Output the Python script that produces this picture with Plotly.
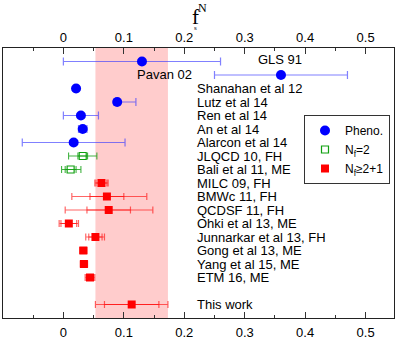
import plotly.graph_objects as go

# ---------------- data ----------------
pheno_labels = ["Pavan 02", "GLS 91", "Shanahan et al 12", "Lutz et al 14",
                "Ren et al 14", "An et al 14", "Alarcon et al 14"]
pheno_val = [0.130, 0.360, 0.021, 0.089, 0.029, 0.032, 0.017]
pheno_err_plus = [0.130, 0.110, 0.003, 0.031, 0.029, 0.007, 0.085]
pheno_err_minus = [0.130, 0.110, 0.003, 0.005, 0.029, 0.007, 0.085]

nf2_labels = ["JLQCD 10, FH", "Bali et al 11, ME"]
nf2_val = [0.032, 0.012]
nf2_stat = [0.008, 0.009]
nf2_tot_plus = [0.0234, 0.017]
nf2_tot_minus = [0.0234, 0.015]

nf3_labels = ["MILC 09, FH", "BMWc 11, FH", "QCDSF 11, FH", "Ohki et al 13, ME",
              "Junnarkar et al 13, FH", "Gong et al 13, ME", "Yang et al 15, ME",
              "ETM 16, ME", "This work"]
nf3_val = [0.063, 0.072, 0.075, 0.009, 0.053, 0.033, 0.034, 0.044, 0.113]
nf3_stat = [0.009, 0.028, 0.036, 0.013, 0.011, 0.004, 0.004, 0.006, 0.045]
nf3_tot_plus = [0.011, 0.066, 0.073, 0.016, 0.015, 0.006, 0.006, 0.008, 0.060]
nf3_tot_minus = [0.011, 0.058, 0.072, 0.016, 0.016, 0.006, 0.006, 0.008, 0.060]

gap_label = " "
row_order = pheno_labels + nf2_labels + nf3_labels[:-1] + [gap_label] + nf3_labels[-1:]

x_tickvals = [0, 0.1, 0.2, 0.3, 0.4, 0.5]
x_ticktext = ["0", "0.1", "0.2", "0.3", "0.4", "0.5"]
legend_names = ["Pheno.", "N<sub>f</sub>=2", "N<sub>f</sub>≥2+1"]

# ---------------- styling ----------------
FONT = "Liberation Sans, Arial, sans-serif"
BLUE = "#0000ff"
BLUE_ERR = "rgba(60,60,255,0.65)"
GREEN = "#10a010"
GREEN_ERR = "rgba(20,160,20,0.8)"
RED = "#ff0000"
RED_ERR = "rgba(255,0,0,0.6)"

W, H = 399, 343
PL, PR, PT, PB = 3, 394, 48, 322


def paper(px, py):
    return (px - PL) / (PR - PL), 1 - (py - PT) / (PB - PT)


fig = go.Figure()

# Pheno
fig.add_trace(go.Scatter(
    x=pheno_val, y=pheno_labels, mode="markers", name=legend_names[0],
    marker=dict(symbol="circle", size=10, color=BLUE),
    error_x=dict(type="data", symmetric=False, array=pheno_err_plus,
                 arrayminus=pheno_err_minus, color=BLUE_ERR, thickness=1.2, width=4),
    hoverinfo="skip"))

# Nf=2 outer + inner
fig.add_trace(go.Scatter(
    x=nf2_val, y=nf2_labels, mode="markers", showlegend=False,
    marker=dict(symbol="square-open", size=7, color="rgba(0,0,0,0)"),
    error_x=dict(type="data", symmetric=False, array=nf2_tot_plus,
                 arrayminus=nf2_tot_minus, color=GREEN_ERR, thickness=1.1, width=3.5),
    hoverinfo="skip"))
fig.add_trace(go.Scatter(
    x=nf2_val, y=nf2_labels, mode="markers", name=legend_names[1],
    marker=dict(symbol="square-open", size=7, color=GREEN, line=dict(width=1.2)),
    error_x=dict(type="data", array=nf2_stat, color=GREEN_ERR, thickness=1.1, width=3.5),
    hoverinfo="skip"))

# Nf>=2+1 outer + inner
fig.add_trace(go.Scatter(
    x=nf3_val, y=nf3_labels, mode="markers", showlegend=False,
    marker=dict(symbol="square", size=8, color="rgba(0,0,0,0)"),
    error_x=dict(type="data", symmetric=False, array=nf3_tot_plus,
                 arrayminus=nf3_tot_minus, color=RED_ERR, thickness=1.2, width=3.5),
    hoverinfo="skip"))
fig.add_trace(go.Scatter(
    x=nf3_val, y=nf3_labels, mode="markers", name=legend_names[2],
    marker=dict(symbol="square", size=8, color=RED),
    error_x=dict(type="data", array=nf3_stat, color=RED_ERR, thickness=1.2, width=3.5),
    hoverinfo="skip"))

# dummy trace to carry the top axis
fig.add_trace(go.Scatter(
    x=nf3_val[-1:], y=nf3_labels[-1:], xaxis="x2", mode="markers",
    marker=dict(opacity=0), showlegend=False, hoverinfo="skip"))

# band from "This work"
band_lo = nf3_val[-1] - nf3_tot_minus[-1]
band_hi = nf3_val[-1] + nf3_tot_plus[-1]
fig.add_shape(type="rect", xref="x", yref="paper", x0=band_lo, x1=band_hi,
              y0=0, y1=1, fillcolor="rgba(255,0,0,0.2)", line=dict(width=0),
              layer="below")

# row labels
label_x = 0.218
annotations = []
for lab in pheno_labels[2:] + nf2_labels + nf3_labels:
    annotations.append(dict(x=label_x, y=lab, xref="x", yref="y", text=lab,
                            showarrow=False, xanchor="left", yanchor="middle",
                            font=dict(family=FONT, size=13, color="black")))
# Pavan label below its point, GLS label above its point
annotations.append(dict(x=0.118, y=pheno_labels[1], xref="x", yref="y", text=pheno_labels[0],
                        showarrow=False, xanchor="left", yanchor="middle", yshift=1,
                        font=dict(family=FONT, size=13, color="black")))
annotations.append(dict(x=0.358, y=pheno_labels[0], xref="x", yref="y", text=pheno_labels[1],
                        showarrow=False, xanchor="center", yanchor="middle", yshift=2,
                        font=dict(family=FONT, size=13, color="black")))

# title f_s^N
for txt, px, py, sz in [("f", 195, 17, 21), ("N", 202, 7, 12), ("s", 195.5, 28, 7)]:
    ax, ay = paper(px, py)
    annotations.append(dict(x=ax, y=ay, xref="paper", yref="paper", text=txt,
                            showarrow=False, xanchor="center", yanchor="middle",
                            font=dict(family="Liberation Serif, Times New Roman, serif",
                                      size=sz, color="black")))

lx, ly = paper(390, 116)

axis_common = dict(range=[-0.0999, 0.547], tickmode="array", tickvals=x_tickvals,
                   ticktext=x_ticktext, ticks="inside", ticklen=6, tickwidth=1,
                   tickcolor="#333", showgrid=False, zeroline=False,
                   showline=True, linecolor="#222", linewidth=1,
                   tickfont=dict(family=FONT, size=13, color="black"),
                   minor=dict(ticks="inside", ticklen=3, tickwidth=1, tickcolor="#333",
                              tickmode="linear", tick0=0, dtick=0.05, showgrid=False))

fig.update_layout(
    width=W, height=H,
    margin=dict(l=PL, r=W - PR, t=PT, b=H - PB),
    paper_bgcolor="white", plot_bgcolor="white",
    xaxis=dict(**axis_common, side="bottom", ticklabelstandoff=2),
    xaxis2=dict(**axis_common, side="top", overlaying="x", matches="x", anchor="y"),
    yaxis=dict(type="category", categoryorder="array", categoryarray=row_order,
               range=[len(row_order), -1], showticklabels=False, ticks="",
               showgrid=False, zeroline=False, showline=True, mirror=True,
               linecolor="#222", linewidth=1),
    showlegend=True,
    legend=dict(x=lx, y=ly, xanchor="right", yanchor="top",
                bordercolor="#333", borderwidth=1, bgcolor="white",
                font=dict(family=FONT, size=12, color="black"),
                itemwidth=30, tracegroupgap=0),
    annotations=annotations,
)

fig.write_html("out.html", config={"displayModeBar": False},
               post_script="document.body.style.margin='0px';document.body.style.overflow='hidden';")
